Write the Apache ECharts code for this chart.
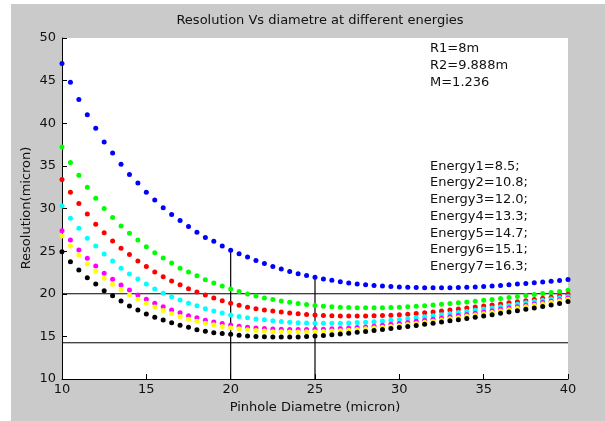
<!DOCTYPE html>
<html><head><meta charset="utf-8">
<script src="https://cdn.jsdelivr.net/npm/echarts@6/dist/echarts.min.js"></script>
<style>html,body{margin:0;padding:0;background:#fff}#c{width:605px;height:421px}</style>
</head><body><div id="c"></div>
<script>
const diameters = [10,10.5,11,11.5,12,12.5,13,13.5,14,14.5,15,15.5,16,16.5,17,17.5,18,18.5,19,19.5,20,20.5,21,21.5,22,22.5,23,23.5,24,24.5,25,25.5,26,26.5,27,27.5,28,28.5,29,29.5,30,30.5,31,31.5,32,32.5,33,33.5,34,34.5,35,35.5,36,36.5,37,37.5,38,38.5,39,39.5,40];
const energy1 = [47.0,44.8,42.8,41.0,39.4,37.8,36.5,35.2,34.0,33.0,31.9,31.0,30.1,29.3,28.6,27.9,27.2,26.6,26.15,25.6,25.1,24.7,24.3,23.9,23.55,23.2,22.9,22.62,22.36,22.13,21.93,21.74,21.57,21.4,21.25,21.14,21.05,20.98,20.91,20.85,20.8,20.76,20.73,20.71,20.7,20.7,20.71,20.73,20.76,20.8,20.85,20.91,20.98,21.05,21.13,21.21,21.29,21.38,21.47,21.56,21.66];
const energy2 = [37.2,35.4,33.9,32.5,31.2,30.0,28.95,27.95,27.1,26.3,25.5,24.8,24.2,23.6,23.0,22.55,22.1,21.65,21.25,20.9,20.55,20.25,19.98,19.73,19.5,19.32,19.15,19.0,18.85,18.73,18.63,18.54,18.47,18.42,18.38,18.36,18.35,18.35,18.36,18.38,18.42,18.47,18.53,18.6,18.68,18.76,18.85,18.94,19.03,19.13,19.23,19.34,19.45,19.56,19.67,19.79,19.91,20.03,20.15,20.27,20.4];
const energy3 = [33.4,31.9,30.6,29.35,28.15,27.15,26.2,25.35,24.6,23.85,23.2,22.55,22.0,21.5,21.05,20.6,20.2,19.85,19.5,19.18,18.9,18.64,18.42,18.25,18.1,17.97,17.86,17.75,17.66,17.58,17.52,17.46,17.42,17.4,17.39,17.39,17.4,17.42,17.45,17.49,17.53,17.6,17.68,17.77,17.87,17.98,18.09,18.2,18.32,18.44,18.56,18.68,18.8,18.93,19.06,19.19,19.32,19.46,19.6,19.75,19.95];
const energy4 = [30.3,28.85,27.67,26.5,25.6,24.66,23.84,22.98,22.32,21.73,21.14,20.56,20.05,19.66,19.27,18.88,18.58,18.25,17.98,17.74,17.52,17.34,17.18,17.05,16.94,16.84,16.75,16.67,16.61,16.57,16.54,16.53,16.53,16.55,16.58,16.62,16.67,16.73,16.8,16.88,16.97,17.07,17.18,17.29,17.41,17.53,17.66,17.79,17.92,18.06,18.2,18.34,18.48,18.63,18.78,18.93,19.08,19.23,19.38,19.53,19.68];
const energy5 = [27.4,26.3,25.13,24.15,23.26,22.4,21.69,21.03,20.44,19.85,19.35,18.88,18.48,18.09,17.78,17.43,17.19,16.9,16.7,16.5,16.32,16.2,16.07,15.98,15.92,15.87,15.84,15.82,15.82,15.82,15.83,15.85,15.88,15.92,15.97,16.03,16.1,16.2,16.3,16.41,16.52,16.64,16.76,16.89,17.02,17.16,17.3,17.44,17.58,17.72,17.87,18.02,18.17,18.32,18.48,18.64,18.8,18.96,19.13,19.31,19.5];
const energy6 = [26.77,25.6,24.55,23.49,22.67,21.81,21.1,20.44,19.85,19.35,18.88,18.45,18.03,17.65,17.32,17.02,16.78,16.55,16.35,16.16,16.0,15.88,15.77,15.7,15.63,15.55,15.53,15.52,15.52,15.53,15.55,15.58,15.62,15.67,15.73,15.8,15.88,15.97,16.07,16.17,16.28,16.4,16.52,16.65,16.78,16.92,17.06,17.2,17.35,17.5,17.65,17.81,17.97,18.13,18.3,18.47,18.64,18.81,18.98,19.16,19.35];
const energy7 = [24.93,23.76,22.79,21.89,21.14,20.34,19.76,19.15,18.56,18.09,17.62,17.23,16.92,16.6,16.3,16.06,15.78,15.6,15.43,15.33,15.24,15.14,15.05,15.0,14.95,14.93,14.92,14.92,14.94,14.98,15.04,15.11,15.19,15.28,15.38,15.48,15.58,15.69,15.8,15.92,16.04,16.16,16.29,16.42,16.55,16.68,16.82,16.96,17.1,17.25,17.4,17.55,17.7,17.86,18.02,18.18,18.34,18.51,18.68,18.86,19.1];
const seriesColors = ['#0000ff','#00ff00','#ff0000','#00ffff','#ff00ff','#ffff00','#000000'];
const hLevels = [20, 14.25];
const vLines = [[20, 25.1], [25, 21.93]];
const xTicks = {min: 10, max: 40, interval: 5};
const yTicks = {min: 10, max: 50, interval: 5};
const yAxisTitle = 'Resolution(micron)';
const paramLines = ['R1=8m', 'R2=9.888m', 'M=1.236'];
const energyLines = ['Energy1=8.5;','Energy2=10.8;','Energy3=12.0;','Energy4=13.3;','Energy5=14.7;','Energy6=15.1;','Energy7=16.3;'];

const all = [energy1, energy2, energy3, energy4, energy5, energy6, energy7];
const FONT = '"DejaVu Sans", "Liberation Sans", Arial, sans-serif';
const series = [];
hLevels.forEach(v => series.push({type:'line', data:[[xTicks.min, v],[xTicks.max, v]], symbol:'none', silent:true,
  lineStyle:{color:'#000', width:1}, z:1}));
vLines.forEach(p => series.push({type:'line', data:[[p[0], yTicks.min],[p[0], p[1]]], symbol:'none', silent:true,
  lineStyle:{color:'#000', width:1.2}, z:1}));
all.forEach((vals, i) => series.push({type:'scatter', symbol:'circle', symbolSize:5,
  itemStyle:{color: seriesColors[i], opacity:1}, data: diameters.map((d, k) => [d, vals[k]]), z:3+i}));

const chart = echarts.init(document.getElementById('c'));
chart.setOption({
  animation:false,
  backgroundColor:'#ffffff',
  title:{text:'Resolution Vs diametre at different energies', left:315, textAlign:'center', top:9,
    textStyle:{fontFamily:FONT, fontSize:13, fontWeight:'normal', color:'#111'}},
  grid:{left:62, right:37, top:38, bottom:42, show:true, backgroundColor:'#ffffff', borderWidth:0},
  xAxis:{type:'value', min:xTicks.min, max:xTicks.max, interval:xTicks.interval,
    name:'Pinhole Diametre (micron)', nameLocation:'middle', nameGap:21,
    nameTextStyle:{fontFamily:FONT, fontSize:13, color:'#111'},
    axisLine:{lineStyle:{color:'#000', width:1}}, axisTick:{inside:true, length:5, lineStyle:{color:'#000'}},
    axisLabel:{fontFamily:FONT, fontSize:13, color:'#111', margin:4}, splitLine:{show:false}},
  yAxis:{type:'value', min:yTicks.min, max:yTicks.max, interval:yTicks.interval,
    axisLine:{lineStyle:{color:'#000', width:1}}, axisTick:{inside:true, length:5, lineStyle:{color:'#000'}},
    axisLabel:{fontFamily:FONT, fontSize:13, color:'#111', margin:6}, splitLine:{show:false}},
  graphic:[
    {type:'rect', z:-10, silent:true, shape:{x:11, y:4, width:600, height:420}, style:{fill:'#cacaca'}},
    {type:'text', x:27, y:208, rotation:Math.PI/2, z:10, silent:true,
      style:{text:yAxisTitle, font:'13px '+FONT, fill:'#111', align:'center', verticalAlign:'middle'}},
    {type:'text', left:430, top:40, z:10, style:{text:paramLines.join('\n'), font:'13px '+FONT, fill:'#111', lineHeight:17}},
    {type:'text', left:430, top:158, z:10, style:{text:energyLines.join('\n'), font:'13px '+FONT, fill:'#111', lineHeight:16.7}}
  ],
  series: series
});
</script></body></html>
